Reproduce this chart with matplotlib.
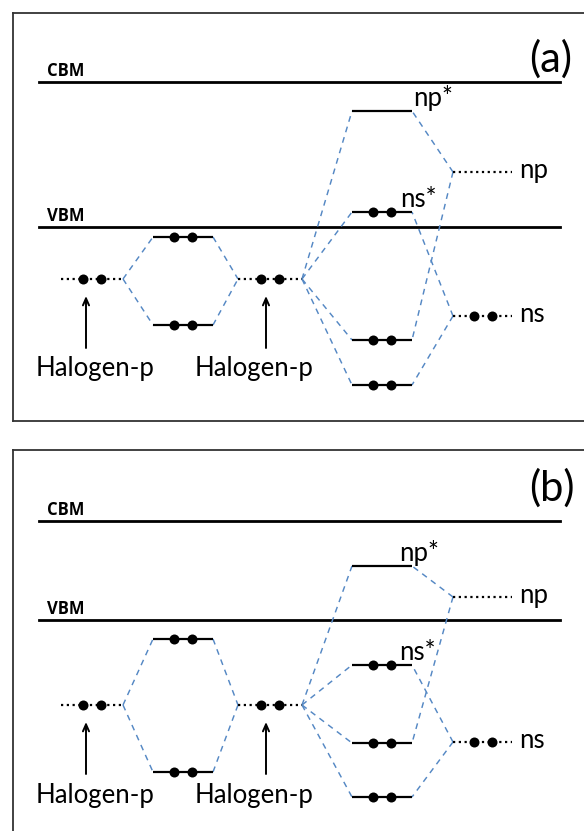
import matplotlib.pyplot as plt

# energy levels, px above the bottom edge of each panel frame
panel_tags = ['(a)', '(b)']
cbm = [339, 337]
vbm = [194, 238]
halogen_p = [142, 153]
hal_bond_up = [184, 219]
hal_bond_dn = [96, 86]
np_star = [310, 292]
ns_star = [209, 193]
mix_up = [81, 115]
mix_dn = [36, 61]
metal_np = [249, 261]
metal_ns = [105, 116]

W, H = 584, 831
frame_top = [13, 450]
frame_h = 408
frame_left, frame_right = 13, 592

# column extents (px)
col_hal1 = (61, 123)
col_bond = (153, 213)
col_hal2 = (238, 302)
col_mix = (352, 412)
col_metal = (453, 512)
band_x = (39, 560)

star_label_x = [(413, 400), (399, 399)]
tag_y = [46, 38]

plt.rcParams['font.family'] = ['Lato', 'DejaVu Sans']
blue = '#5588c4'
dotted = (0, (1, 1.6))
dashed = (0, (4, 3.5))

fig = plt.figure(figsize=(W / 100, H / 100), dpi=100)


def level(ax, x, e, electrons=True, solid=True):
    ax.plot(x, [e, e], color='black', lw=1.6,
            linestyle='-' if solid else dotted, solid_capstyle='butt')
    if electrons:
        c = (x[0] + x[1]) / 2
        ax.plot([c - 9, c + 9], [e, e], 'o', color='black', ms=7.2, mew=0)


def link(ax, p, q):
    ax.plot([p[0], q[0]], [p[1], q[1]], color=blue, lw=1.05, linestyle=dashed)


for i in range(2):
    top = frame_top[i]
    ax = fig.add_axes([frame_left / W, 1 - (top + frame_h) / H,
                       (frame_right - frame_left) / W, frame_h / H])
    ax.set_xlim(frame_left, frame_right)
    ax.set_ylim(0, frame_h)
    ax.set_xticks([])
    ax.set_yticks([])
    for s in ax.spines.values():
        s.set_linewidth(1.3)
        s.set_color('#333333')

    # band edges
    for e, name in [(cbm[i], 'CBM'), (vbm[i], 'VBM')]:
        ax.plot(band_x, [e, e], color='black', lw=2.0)
        ax.text(47, e + 6, name, fontsize=12, fontweight='bold', va='baseline',
                family=['Open Sans', 'DejaVu Sans'])

    ax.text(529, frame_h - tag_y[i], panel_tags[i], fontsize=30, va='center')

    hp = halogen_p[i]
    # dashed correlation lines
    link(ax, (col_hal1[1], hp), (col_bond[0], hal_bond_up[i]))
    link(ax, (col_hal1[1], hp), (col_bond[0], hal_bond_dn[i]))
    link(ax, (col_bond[1], hal_bond_up[i]), (col_hal2[0], hp))
    link(ax, (col_bond[1], hal_bond_dn[i]), (col_hal2[0], hp))
    for e in [np_star[i], ns_star[i], mix_up[i], mix_dn[i]]:
        link(ax, (col_hal2[1], hp), (col_mix[0], e))
    link(ax, (col_metal[0], metal_np[i]), (col_mix[1], np_star[i]))
    link(ax, (col_metal[0], metal_np[i]), (col_mix[1], mix_up[i]))
    link(ax, (col_metal[0], metal_ns[i]), (col_mix[1], ns_star[i]))
    link(ax, (col_metal[0], metal_ns[i]), (col_mix[1], mix_dn[i]))

    # levels
    level(ax, col_hal1, hp, solid=False)
    level(ax, col_hal2, hp, solid=False)
    level(ax, col_bond, hal_bond_up[i])
    level(ax, col_bond, hal_bond_dn[i])
    level(ax, col_mix, np_star[i], electrons=False)
    level(ax, col_mix, ns_star[i])
    level(ax, col_mix, mix_up[i])
    level(ax, col_mix, mix_dn[i])
    level(ax, col_metal, metal_np[i], electrons=False, solid=False)
    level(ax, col_metal, metal_ns[i], solid=False)

    for ax_x, tx in [(86, 36), (266, 195)]:
        ax.annotate('', xy=(ax_x, hp - 17), xytext=(ax_x, hp - 69),
                    arrowprops=dict(arrowstyle='->,head_length=0.5,head_width=0.22',
                                    color='black', lw=1.4, shrinkA=0, shrinkB=0))
        ax.text(tx, hp - 90, 'Halogen-p', fontsize=18.5, va='center')

    ax.text(star_label_x[i][0], np_star[i] + 5, 'np*', fontsize=18.5, va='baseline')
    ax.text(star_label_x[i][1], ns_star[i] + 5, 'ns*', fontsize=18.5, va='baseline')
    ax.text(519, metal_np[i] - 6, 'np', fontsize=18.5, va='baseline')
    ax.text(519, metal_ns[i] - 6, 'ns', fontsize=18.5, va='baseline')

fig.savefig('out.png', dpi=100)
